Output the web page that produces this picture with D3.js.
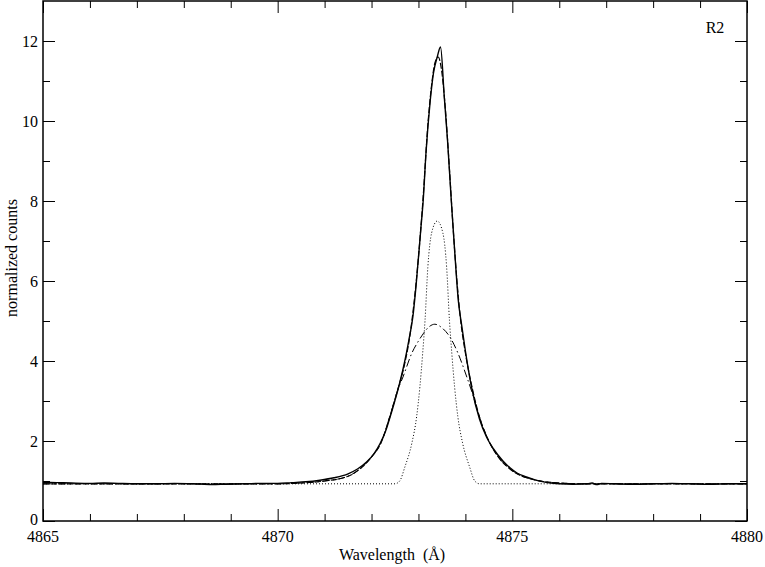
<!DOCTYPE html>
<html><head><meta charset="utf-8">
<script src="https://cdn.jsdelivr.net/npm/d3@7"></script>
<style>body{margin:0;background:#fff}svg{display:block}</style>
</head><body><svg id="c" width="765" height="567"></svg>
<script>
// Observed spectrum (solid)
const obsWave = [4865.0,4865.3,4865.6,4866.0,4866.3,4866.6,4867.0,4867.4,4867.8,4868.2,4868.6,4868.9,4869.3,4869.7,4870.0,4870.3,4870.6,4870.9,4871.2,4871.5,4871.7,4871.9,4872.05,4872.18,4872.3,4872.4,4872.5,4872.6,4872.7,4872.8,4872.88,4872.95,4873.05,4873.1,4873.16,4873.25,4873.32,4873.4,4873.47,4873.55,4873.62,4873.7,4873.78,4873.85,4873.92,4874.0,4874.13,4874.3,4874.45,4874.6,4874.8,4874.95,4875.1,4875.3,4875.5,4875.75,4876.0,4876.3,4876.6,4876.7,4876.8,4876.9,4877.2,4877.6,4878.0,4878.4,4878.8,4879.2,4879.6,4880.0];
const obsFlux = [0.97,0.96,0.95,0.94,0.95,0.94,0.93,0.93,0.94,0.93,0.91,0.92,0.93,0.94,0.94,0.96,0.98,1.02,1.08,1.18,1.30,1.48,1.68,1.93,2.25,2.62,3.02,3.45,3.95,4.55,5.10,5.90,7.30,8.00,9.20,10.50,11.20,11.60,11.85,10.60,9.50,8.00,6.60,5.50,4.90,4.25,3.35,2.55,2.10,1.80,1.50,1.33,1.20,1.10,1.02,0.96,0.93,0.92,0.93,0.95,0.91,0.94,0.93,0.92,0.93,0.94,0.93,0.92,0.93,0.93];
// Total fit (dashed)
const fitWave = [4865.0,4870.0,4870.5,4871.0,4871.5,4871.8,4872.0,4872.2,4872.4,4872.55,4872.7,4872.8,4872.9,4873.0,4873.1,4873.2,4873.28,4873.35,4873.42,4873.5,4873.58,4873.66,4873.74,4873.82,4873.9,4874.0,4874.15,4874.3,4874.5,4874.7,4874.9,4875.1,4875.4,4875.7,4876.0,4876.5,4880.0];
const fitFlux = [0.93,0.93,0.95,1.00,1.12,1.35,1.60,1.95,2.65,3.25,3.90,4.50,5.40,6.60,8.10,9.90,10.90,11.45,11.60,11.20,10.20,8.80,7.30,6.00,5.00,4.20,3.30,2.60,2.00,1.60,1.35,1.18,1.05,0.98,0.95,0.93,0.93];
// Broad component (dash-dot)
const broadWave = [4865.0,4870.0,4870.5,4871.0,4871.5,4871.8,4872.0,4872.2,4872.4,4872.55,4872.67,4872.86,4873.0,4873.1,4873.22,4873.35,4873.5,4873.67,4873.84,4874.03,4874.16,4874.3,4874.5,4874.7,4874.9,4875.1,4875.4,4875.7,4876.0,4876.5,4880.0];
const broadFlux = [0.93,0.93,0.95,1.00,1.12,1.35,1.60,1.95,2.65,3.25,3.60,4.20,4.50,4.68,4.85,4.92,4.83,4.60,4.20,3.60,3.15,2.60,2.00,1.60,1.35,1.18,1.05,0.98,0.95,0.93,0.93];
// Narrow component (dotted)
const narrowWave = [4865.0,4872.5,4872.6,4872.71,4872.86,4872.96,4873.03,4873.09,4873.14,4873.2,4873.28,4873.4,4873.52,4873.6,4873.66,4873.71,4873.77,4873.84,4873.94,4874.09,4874.2,4874.3,4880.0];
const narrowFlux = [0.93,0.93,1.00,1.35,1.95,2.60,3.35,4.20,5.02,6.35,7.20,7.50,7.20,6.35,5.02,4.20,3.35,2.60,1.95,1.35,1.00,0.93,0.93];
const xMajorTicks = [4865,4870,4875,4880];
const xMinorTicks = [4866,4867,4868,4869,4871,4872,4873,4874,4876,4877,4878,4879];
const yMajorTicks = [0,2,4,6,8,10,12];
const yMinorTicks = [1,3,5,7,9,11];
const xTitle = "Wavelength\u00a0\u00a0(Å)";
const yTitle = "normalized counts";
const panelLabel = "R2";

const FONT = "Liberation Serif";
const svg = d3.select("#c");
const L=43,R=747,T=1,B=521;
const x = d3.scaleLinear().domain([4865,4880]).range([L,R]);
const y = d3.scaleLinear().domain([0,13]).range([B,T]);

function zip(a,b){return a.map((v,i)=>[v,b[i]]);}
svg.append("clipPath").attr("id","cp").append("rect").attr("x",L).attr("y",T).attr("width",R-L).attr("height",B-T);
const g = svg.append("g").attr("clip-path","url(#cp)");
const lineSm = d3.line().x(d=>x(d[0])).y(d=>y(d[1])).curve(d3.curveMonotoneX);

g.append("path").datum(zip(narrowWave,narrowFlux)).attr("d",lineSm).attr("fill","none").attr("stroke","#000").attr("stroke-width",1).attr("stroke-dasharray","1,2");
g.append("path").datum(zip(broadWave,broadFlux)).attr("d",lineSm).attr("fill","none").attr("stroke","#000").attr("stroke-width",1).attr("stroke-dasharray","8,3,1.5,3");
g.append("path").datum(zip(fitWave,fitFlux)).attr("d",lineSm).attr("fill","none").attr("stroke","#000").attr("stroke-width",1.2).attr("stroke-dasharray","6,2");
g.append("path").datum(zip(obsWave,obsFlux)).attr("d",lineSm).attr("fill","none").attr("stroke","#000").attr("stroke-width",1.4).attr("stroke-linejoin","round");

function ax(gen, tr, vals, size){
  const a = svg.append("g").attr("transform",tr).call(gen.tickValues(vals).tickSize(size).tickFormat(""));
  a.select(".domain").remove();
  a.selectAll("line").attr("stroke","#000").attr("stroke-width",1);
  return a;
}
ax(d3.axisBottom(x), `translate(0,${B})`, xMajorTicks, -12);
ax(d3.axisBottom(x), `translate(0,${B})`, xMinorTicks, -7);
ax(d3.axisTop(x), `translate(0,${T})`, xMajorTicks, -12);
ax(d3.axisTop(x), `translate(0,${T})`, xMinorTicks, -7);
ax(d3.axisLeft(y), `translate(${L},0)`, yMajorTicks, -12);
ax(d3.axisLeft(y), `translate(${L},0)`, yMinorTicks, -7);
ax(d3.axisRight(y), `translate(${R},0)`, yMajorTicks, -12);
ax(d3.axisRight(y), `translate(${R},0)`, yMinorTicks, -7);

svg.append("rect").attr("x",L).attr("y",T).attr("width",R-L).attr("height",B-T).attr("fill","none").attr("stroke","#000").attr("stroke-width",1.5);

function txt(sel){return sel.attr("font-family",FONT).attr("font-size",16).attr("fill","#000");}
txt(svg.append("g").selectAll("text").data(xMajorTicks).join("text")
  .attr("x",d=>x(d)).attr("y",B+21).attr("text-anchor","middle")).text(d=>d);
txt(svg.append("g").selectAll("text").data(yMajorTicks).join("text")
  .attr("x",L-5).attr("y",d=>y(d)+(d===0?4:6)).attr("text-anchor","end")).text(d=>d);

txt(svg.append("text").attr("x",392).attr("y",560).attr("text-anchor","middle")).text(xTitle);
txt(svg.append("text").attr("transform","translate(17,258) rotate(-90)").attr("text-anchor","middle")).text(yTitle);
txt(svg.append("text").attr("x",715).attr("y",33).attr("text-anchor","middle")).text(panelLabel);
</script></body></html>
